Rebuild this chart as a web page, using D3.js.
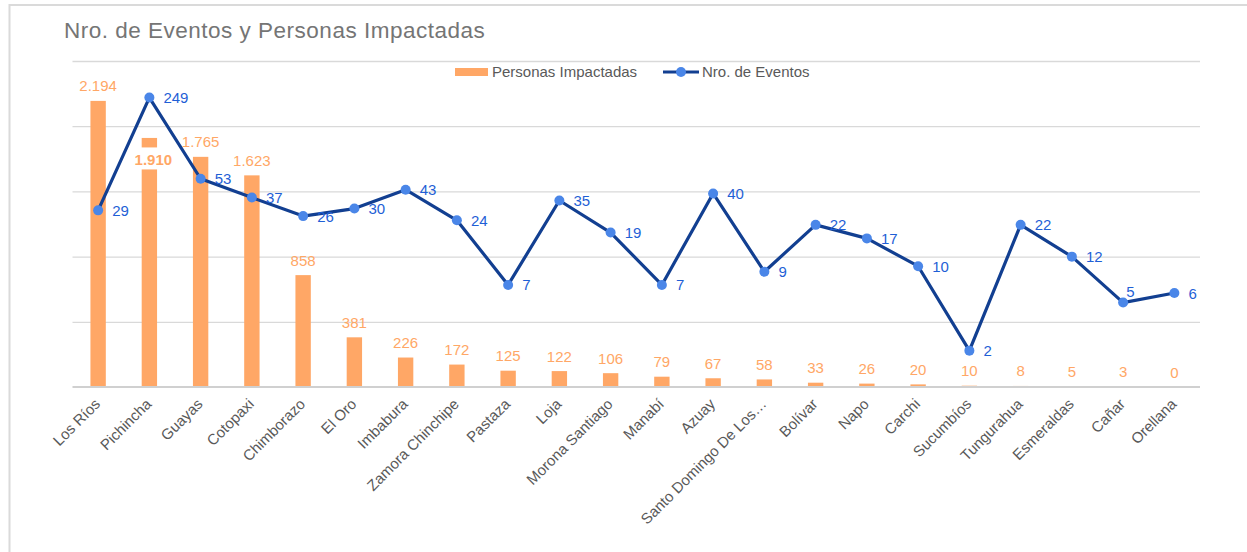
<!DOCTYPE html>
<html>
<head>
<meta charset="utf-8">
<script src="https://cdn.jsdelivr.net/npm/d3@7"></script>
<style>
  body { margin: 0; background: #fff; }
  text { font-family: Arial, "Liberation Sans", sans-serif; }
</style>
</head>
<body>
<svg id="chart"></svg>
<script>
// datos
var provincias = ["Los Ríos","Pichincha","Guayas","Cotopaxi","Chimborazo","El Oro","Imbabura","Zamora Chinchipe","Pastaza","Loja","Morona Santiago","Manabí","Azuay","Santo Domingo De Los…","Bolívar","Napo","Carchi","Sucumbíos","Tungurahua","Esmeraldas","Cañar","Orellana"];
var personas = [2194,1910,1765,1623,858,381,226,172,125,122,106,79,67,58,33,26,20,10,8,5,3,0];
var eventos = [29,249,53,37,26,30,43,24,7,35,19,7,40,9,22,17,10,2,22,12,5,6];
var gridTicks = [500,1000,1500,2000,2500];

var width = 1247, height = 552;
var plot = {left: 72.5, right: 1200, top: 61, bottom: 387};

var colorBar = "#ffa766", colorLine = "#123f91", colorDot = "#4a86e8", colorBlueText = "#1f5fd6";

var es = d3.formatLocale({decimal: ",", thousands: ".", grouping: [3], currency: ["$", ""]});
var fmt = es.format(",d");

var svg = d3.select("#chart").attr("width", width).attr("height", height);

// marco
svg.append("path")
  .attr("d", "M9.5," + height + "V5H" + width)
  .attr("fill", "none").attr("stroke", "#dadada").attr("stroke-width", 2);

svg.append("text")
  .attr("x", 64).attr("y", 38)
  .attr("font-size", 22.5).attr("letter-spacing", 0.5).attr("fill", "#757575")
  .text("Nro. de Eventos y Personas Impactadas");

// escalas
var x = d3.scaleBand().domain(provincias)
  .range([plot.left, plot.right]).paddingInner(0.7).paddingOuter(0.35);
var yBar = d3.scaleLinear().domain([0, 2500]).range([plot.bottom, plot.top]);
var yLog = d3.scaleLog().domain([1, 500]).range([plot.bottom, plot.top]);
var cx = function(i){ return x(provincias[i]) + x.bandwidth()/2; };

// grilla
var grid = svg.append("g")
  .attr("transform", "translate(" + plot.left + ",0)")
  .call(d3.axisLeft(yBar).tickValues(gridTicks).tickSize(-(plot.right - plot.left)).tickFormat(""));
grid.select(".domain").remove();
grid.selectAll(".tick line").attr("stroke", "#d9d9d9").attr("stroke-width", 1.3);

// barras
svg.append("g").selectAll("rect")
  .data(personas).join("rect")
  .attr("x", function(d,i){ return x(provincias[i]); })
  .attr("width", x.bandwidth())
  .attr("y", function(d){ return yBar(d); })
  .attr("height", function(d){ return yBar(0) - yBar(d); })
  .attr("fill", colorBar);

// linea base encima de las barras
svg.append("line")
  .attr("x1", plot.left).attr("x2", plot.right)
  .attr("y1", yBar(0)).attr("y2", yBar(0))
  .attr("stroke", "#d0d0d0").attr("stroke-width", 2.2);

// etiquetas de barras (Pichincha va dentro de la barra)
var barLabels = svg.append("g");
personas.forEach(function(d, i){
  if (provincias[i] === "Pichincha") {
    var top = yBar(d);
    barLabels.append("rect")
      .attr("x", x(provincias[i]) - 1).attr("width", x.bandwidth() + 2)
      .attr("y", top + 9.5).attr("height", 22).attr("fill", "#fff");
    barLabels.append("text")
      .attr("x", cx(i) + 4).attr("y", top + 27)
      .attr("text-anchor", "middle").attr("font-size", 15).attr("font-weight", "bold")
      .attr("fill", colorBar).text(fmt(d));
  } else {
    barLabels.append("text")
      .attr("x", cx(i)).attr("y", yBar(d) - 9.5)
      .attr("text-anchor", "middle").attr("font-size", 15)
      .attr("fill", colorBar).text(fmt(d));
  }
});

// linea de eventos
var line = d3.line()
  .x(function(d,i){ return cx(i); })
  .y(function(d){ return yLog(d); });

svg.append("path")
  .attr("d", line(eventos))
  .attr("fill", "none").attr("stroke", colorLine)
  .attr("stroke-width", 3.2).attr("stroke-linejoin", "round");

svg.append("g").selectAll("circle")
  .data(eventos).join("circle")
  .attr("cx", function(d,i){ return cx(i); })
  .attr("cy", function(d){ return yLog(d); })
  .attr("r", 5).attr("fill", colorDot);

svg.append("g").selectAll("text")
  .data(eventos).join("text")
  .attr("x", function(d,i){ return cx(i) + (provincias[i] === "Cañar" ? 3 : 14); })
  .attr("y", function(d,i){ return yLog(d) + (provincias[i] === "Cañar" ? -6 : 5.5); })
  .attr("font-size", 15).attr("fill", colorBlueText)
  .text(function(d){ return fmt(d); });

// eje x
var xAxis = svg.append("g")
  .attr("transform", "translate(0," + plot.bottom + ")")
  .call(d3.axisBottom(x).tickSize(0).tickPadding(0));
xAxis.select(".domain").remove();
xAxis.selectAll(".tick text")
  .attr("font-size", 15).attr("fill", "#595959")
  .attr("text-anchor", "end")
  .attr("dy", 0)
  .attr("transform", "translate(3,18) rotate(-45)");

// leyenda
var legend = svg.append("g");
legend.append("rect").attr("x", 455).attr("y", 68).attr("width", 33).attr("height", 8).attr("fill", colorBar);
legend.append("text").attr("x", 492).attr("y", 76.5).attr("font-size", 15).attr("fill", "#595959").text("Personas Impactadas");
legend.append("line").attr("x1", 663).attr("x2", 699).attr("y1", 72).attr("y2", 72)
  .attr("stroke", colorLine).attr("stroke-width", 3.2);
legend.append("circle").attr("cx", 681).attr("cy", 72).attr("r", 5).attr("fill", colorDot);
legend.append("text").attr("x", 702).attr("y", 76.5).attr("font-size", 15).attr("fill", "#595959").text("Nro. de Eventos");
</script>
</body>
</html>
